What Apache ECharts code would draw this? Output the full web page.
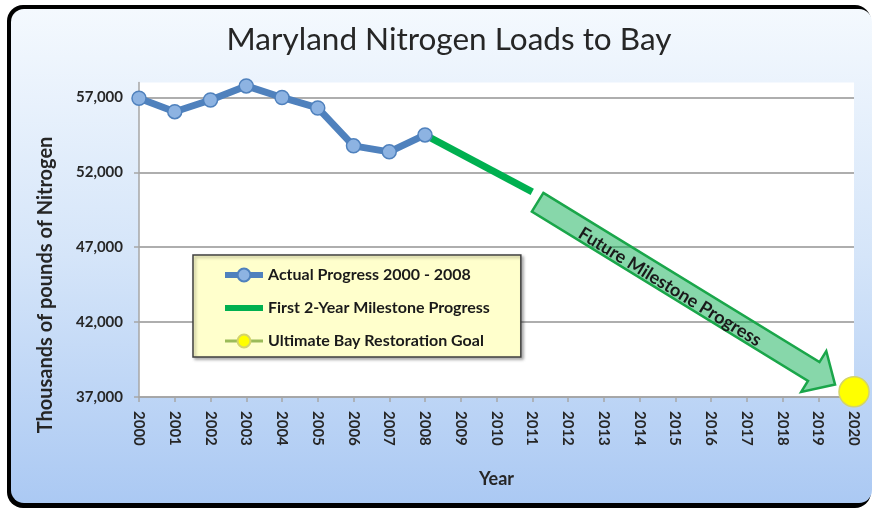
<!DOCTYPE html>
<html><head><meta charset="utf-8">
<script src="https://cdn.jsdelivr.net/npm/echarts@6/dist/echarts.min.js"></script>
<style>html,body{margin:0;padding:0;background:#fff}#c{width:872px;height:509px}</style>
</head><body><div id="c"></div>
<script>
// ---- data ----
const years = ['2000','2001','2002','2003','2004','2005','2006','2007','2008','2009','2010',
               '2011','2012','2013','2014','2015','2016','2017','2018','2019','2020'];
const actual = [56950, 56050, 56830, 57770, 57000, 56300, 53770, 53370, 54500,
                null, null, null, null, null, null, null, null, null, null, null, null];
const milestone = [null, null, null, null, null, null, null, null, 54500, null, null,
                   50700, null, null, null, null, null, null, null, null, null];
const goal = [null, null, null, null, null, null, null, null, null, null, null,
              null, null, null, null, null, null, null, null, null, 37350];
const yTicks = [37000, 42000, 47000, 52000, 57000];
const seriesNames = ['Actual Progress 2000 - 2008', 'First 2-Year Milestone Progress', 'Ultimate Bay Restoration Goal'];
// annotation arrow, in data space: [category index, value]
const arrowFrom = [11.15, 50000];
const arrowTo = [19.47, 37830];
const arrowLabel = 'Future Milestone Progress';

const FONT = 'Lato';
const TXT = '#262626';
const chart = echarts.init(document.getElementById('c'), null, {renderer: 'canvas'});

chart.setOption({
  animation: false,
  title: {
    text: 'Maryland Nitrogen Loads to Bay',
    left: 444, textAlign: 'center', top: 19,
    textStyle: {fontFamily: FONT, fontSize: 31.5, fontWeight: 'normal', color: TXT}
  },
  grid: {left: 139, right: 18, top: 82.5, bottom: 112, show: true, backgroundColor: '#ffffff', borderWidth: 0, containLabel: false, outerBoundsMode: 'none'},
  legend: {
    left: 193, top: 255, orient: 'vertical', selectedMode: false,
    data: [
      {name: seriesNames[0], lineStyle: {width: 6}},
      {name: seriesNames[1], lineStyle: {width: 6}, itemStyle: {color: 'rgba(0,0,0,0)', borderWidth: 0}},
      {name: seriesNames[2], lineStyle: {width: 3}}
    ],
    itemWidth: 38, itemHeight: 16, itemGap: 17, padding: [12, 31, 8, 29],
    backgroundColor: '#ffffcc', borderColor: '#404040', borderWidth: 1.5,
    shadowBlur: 3, shadowOffsetX: 2, shadowOffsetY: 2, shadowColor: 'rgba(0,0,0,0.3)',
    textStyle: {fontFamily: FONT, fontWeight: 'bold', fontSize: 16, color: '#1a1a1a'}
  },
  xAxis: {
    type: 'category', data: years, boundaryGap: false,
    axisLine: {show: true, lineStyle: {color: '#a6a6a6', width: 1.5}},
    axisTick: {show: true, length: 5, lineStyle: {color: '#a6a6a6', width: 1.5}},
    axisLabel: {rotate: -90, interval: 0, margin: 14, fontFamily: FONT, fontWeight: 'bold', fontSize: 15, color: TXT},
    splitLine: {show: false},
    name: 'Year', nameLocation: 'middle', nameGap: 73,
    nameTextStyle: {fontFamily: FONT, fontWeight: 'bold', fontSize: 18, color: TXT}
  },
  yAxis: {
    type: 'value', min: 37000, max: 58000,
    axisLine: {show: true, lineStyle: {color: '#a6a6a6', width: 1.5}},
    axisTick: {show: true, length: 5, customValues: yTicks, lineStyle: {color: '#a6a6a6', width: 1.5}},
    axisLabel: {customValues: yTicks, margin: 16, formatter: v => Number(v).toLocaleString('en-US'),
      fontFamily: FONT, fontWeight: 'bold', fontSize: 15, color: TXT},
    splitLine: {show: true, lineStyle: {color: '#939393', width: 1.5}}
  },
  series: [
    {name: seriesNames[0], type: 'line', data: actual, z: 4, clip: false,
     symbol: 'circle', symbolSize: 14,
     lineStyle: {color: '#4f81bd', width: 7},
     itemStyle: {color: '#8db3e2', borderColor: '#4f81bd', borderWidth: 1.5}},
    {name: seriesNames[1], type: 'line', data: milestone, connectNulls: true, z: 3,
     symbol: 'none', lineStyle: {color: '#00b050', width: 7}, itemStyle: {color: '#00b050'}},
    {name: seriesNames[2], type: 'line', data: goal, z: 5, clip: false,
     symbol: 'circle', symbolSize: 30,
     lineStyle: {color: '#9bbb59', width: 3},
     itemStyle: {color: '#ffff00', borderColor: '#d4d46a', borderWidth: 1.5}}
  ]
});

function drawAnnotations() {
  const p0 = chart.convertToPixel({gridIndex: 0}, [0, arrowFrom[1]]);
  const p20 = chart.convertToPixel({gridIndex: 0}, [years.length - 1, arrowFrom[1]]);
  const xAt = i => p0[0] + (p20[0] - p0[0]) * i / (years.length - 1);
  const yAt = v => chart.convertToPixel({yAxisIndex: 0}, v);
  const A = [xAt(arrowFrom[0]), yAt(arrowFrom[1])];
  const B = [xAt(arrowTo[0]), yAt(arrowTo[1])];
  const dx = B[0] - A[0], dy = B[1] - A[1], L = Math.hypot(dx, dy);
  const ux = dx / L, uy = dy / L, nx = -uy, ny = ux;
  const bw = 11, hw = 24, hl = 25;
  const P = (t, s) => [A[0] + ux * t + nx * s, A[1] + uy * t + ny * s];
  const pts = [P(0, -bw), P(L - hl, -bw), P(L - hl, -hw), P(L, 0), P(L - hl, hw), P(L - hl, bw), P(0, bw)];
  const tc = P(L * 0.45, 3);
  chart.setOption({
    graphic: [
      {type: 'rect', id: 'frame', z: -20, silent: true,
       shape: {x: 7, y: 5, width: 864, height: 503, r: 16}, style: {fill: '#000'}},
      {type: 'rect', id: 'card', z: -19, silent: true,
       shape: {x: 11, y: 9, width: 861, height: 494, r: 13},
       style: {fill: new echarts.graphic.LinearGradient(0, 0, 0, 1, [
         {offset: 0, color: '#f4f9fe'}, {offset: 0.5, color: '#d5e5f9'}, {offset: 1, color: '#abc9f3'}])}},
      {type: 'text', id: 'ytitle', x: 46, y: 285, rotation: Math.PI / 2, z: 10,
       style: {text: 'Thousands of pounds of Nitrogen', fontFamily: FONT, fontWeight: 'bold', fontSize: 20,
               fill: TXT, align: 'center', verticalAlign: 'middle'}},
      {type: 'polygon', id: 'arrow', z: 10,
       shape: {points: pts},
       style: {fill: 'rgba(0,170,75,0.47)', stroke: '#1aa64a', lineWidth: 2.5, lineJoin: 'miter'}},
      {type: 'text', id: 'arrowText', x: tc[0], y: tc[1], rotation: -Math.atan2(dy, dx), z: 11,
       style: {text: arrowLabel, fontFamily: FONT, fontWeight: 'bold', fontSize: 18,
               fill: '#1a1a1a', align: 'center', verticalAlign: 'middle'}}
    ]
  });
}
drawAnnotations();
</script>
</body></html>
